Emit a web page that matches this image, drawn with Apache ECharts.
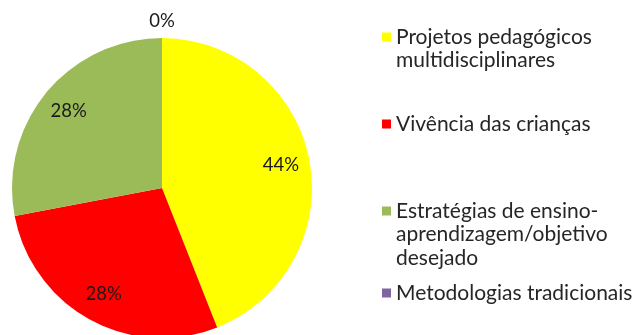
<!DOCTYPE html>
<html><head><meta charset="utf-8">
<script src="https://cdn.jsdelivr.net/npm/echarts@6/dist/echarts.min.js"></script>
<style>html,body{margin:0;padding:0;background:#fff}#c{width:637px;height:335px}</style>
</head><body><div id="c"></div>
<script>
const categories = ['Projetos pedagógicos multidisciplinares','Vivência das crianças','Estratégias de ensino-aprendizagem/objetivo desejado','Metodologias tradicionais'];
const legendLines = [['Projetos pedagógicos','multidisciplinares'],['Vivência das crianças'],['Estratégias de ensino-','aprendizagem/objetivo','desejado'],['Metodologias tradicionais']];
const values = [44, 28, 28, 0];
const colors = ['#FFFF00','#FF0000','#9BBB59','#8064A2'];

const FONT = 'Lato';
const LH = 23.5;
const iconY = [37, 124, 211, 293];

const data = categories.map((n,i)=>({name:n, value:values[i], itemStyle:{color:colors[i]}}));

const legends = categories.map((n,i)=>{
  const nl = legendLines[i].length;
  const txt = '\n'.repeat(nl-1) + legendLines[i].join('\n');
  const totalLines = 2*nl-1;
  return {
    data:[n], orient:'vertical', left:382, top: iconY[i] - totalLines*LH/2,
    padding:0, icon:'rect', itemWidth:9, itemHeight:9, selectedMode:false,
    formatter: ()=>txt,
    textStyle:{fontFamily:FONT, fontSize:21, color:'#262626', lineHeight:LH}
  };
});

const chart = echarts.init(document.getElementById('c'), null, {renderer:'canvas'});
chart.setOption({
  animation:false,
  legend: legends,
  series:[
    {type:'pie', center:[162,188], radius:[0,150], startAngle:90, clockwise:true,
     data:data, label:{show:false}, labelLine:{show:false}, silent:true, emphasis:{disabled:true}},
    {type:'pie', center:[162,188], radius:[86,150], startAngle:90, clockwise:true,
     data:data.map(d=>({name:d.name, value:d.value})), itemStyle:{color:'rgba(0,0,0,0)'},
     label:{show:true, position:'inside', formatter:p=>p.value>0?p.percent+'%':'', fontFamily:FONT, fontSize:18.5, color:'#1a1a1a'},
     labelLine:{show:false}, silent:true, emphasis:{disabled:true}, legendHoverLink:false},
    {type:'pie', center:[162,188], radius:[150,178], startAngle:90, clockwise:true,
     data:data.map(d=>({name:d.name, value:d.value})), itemStyle:{color:'rgba(0,0,0,0)'},
     label:{show:true, position:'inside', formatter:p=>p.value===0?p.percent+'%':'', fontFamily:FONT, fontSize:18.5, color:'#1a1a1a'},
     labelLine:{show:false}, silent:true, emphasis:{disabled:true}, legendHoverLink:false}
  ]
});
</script></body></html>
